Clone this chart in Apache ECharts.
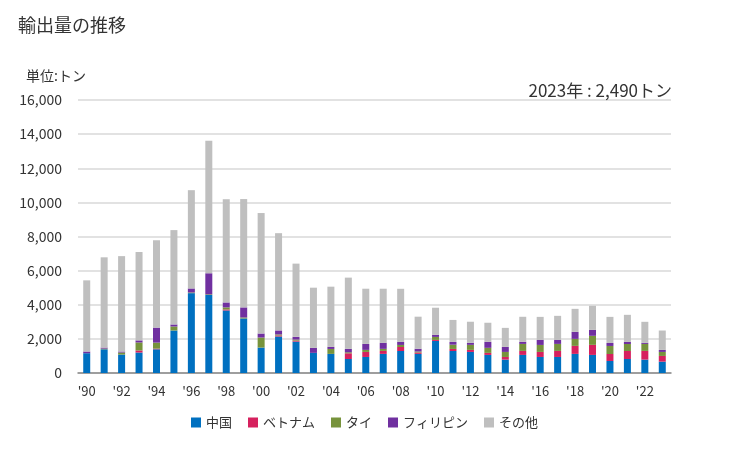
<!DOCTYPE html>
<html><head><meta charset="utf-8">
<script src="https://cdn.jsdelivr.net/npm/echarts@6/dist/echarts.min.js"></script>
<style>html,body{margin:0;padding:0;background:#fff}#c{width:729px;height:450px}</style>
</head><body><div id="c"></div>
<script>
var categories = ["'90","'91","'92","'93","'94","'95","'96","'97","'98","'99","'00","'01","'02","'03","'04","'05","'06","'07","'08","'09","'10","'11","'12","'13","'14","'15","'16","'17","'18","'19","'20","'21","'22","'23"];
var china   = [1160,1390,1080,1200,1390,2490,4680,4570,3665,3195,1490,2140,1840,1180,1120,820,940,1120,1290,1120,1880,1290,1235,1060,785,1060,940,940,1120,1060,705,820,785,665];
var vietnam = [0,0,0,120,40,0,0,0,60,0,0,60,60,0,0,335,295,175,235,80,60,120,120,120,155,235,295,355,470,590,410,470,510,335];
var thai    = [0,40,120,470,350,235,40,40,120,60,590,60,60,0,290,60,120,120,120,60,175,250,295,295,295,410,410,410,410,530,470,410,410,235];
var phil    = [100,60,60,120,880,120,235,1235,290,590,235,235,160,290,120,200,350,350,175,160,120,160,120,350,295,120,295,235,410,350,175,120,60,120];
var other   = [4170,5290,5590,5180,5120,5530,5760,7760,6050,6350,7060,5700,4290,3530,3530,4175,3235,3175,3115,1880,1590,1290,1235,1120,1115,1470,1350,1410,1350,1410,1530,1590,1235,1135];
var seriesNames = ['中国','ベトナム','タイ','フィリピン','その他'];
var colors = ['#0070C0','#D6215E','#77933C','#7030A0','#BFBFBF'];
var yTicks = {min:0, max:16000, interval:2000};

var font = '"Noto Sans CJK JP", "Noto Sans", sans-serif';
var chart = echarts.init(document.getElementById('c'));
var data = [china, vietnam, thai, phil, other];
chart.setOption({
  animation:false,
  textStyle:{fontFamily:font},
  title:[
    {text:'輸出量の推移', left:18, top:16, padding:0, textStyle:{fontSize:18, fontWeight:'normal', color:'#333', fontFamily:font}},
    {text:'単位:トン', left:26, top:69, padding:0, textStyle:{fontSize:14, fontWeight:'normal', color:'#333', fontFamily:font}},
    {text:'2023年 : 2,490トン', right:57, top:82, padding:0, textStyle:{fontSize:17, fontWeight:'normal', color:'#333', fontFamily:font}}
  ],
  legend:{bottom:16, left:'center', itemWidth:10, itemHeight:10, itemGap:16, icon:'rect',
    textStyle:{fontSize:13, color:'#333', fontFamily:font}, data:seriesNames},
  grid:{left:78, right:58, top:100, bottom:77},
  xAxis:{type:'category', data:categories,
    axisLine:{lineStyle:{color:'#888', width:1.5}}, axisTick:{show:false},
    axisLabel:{interval:1, color:'#333', fontSize:13, margin:12, fontFamily:font}},
  yAxis:{type:'value', min:yTicks.min, max:yTicks.max, interval:yTicks.interval,
    axisLine:{show:false}, axisTick:{show:false},
    splitLine:{lineStyle:{color:'#D9D9D9', width:1.5}},
    axisLabel:{color:'#333', fontSize:14, margin:16, fontFamily:font,
      formatter:function(v){return v.toLocaleString('en-US');}}},
  series: seriesNames.map(function(n,i){
    return {name:n, type:'bar', stack:'t', data:data[i], barWidth:7,
      itemStyle:{color:colors[i]}};
  })
});
</script></body></html>
